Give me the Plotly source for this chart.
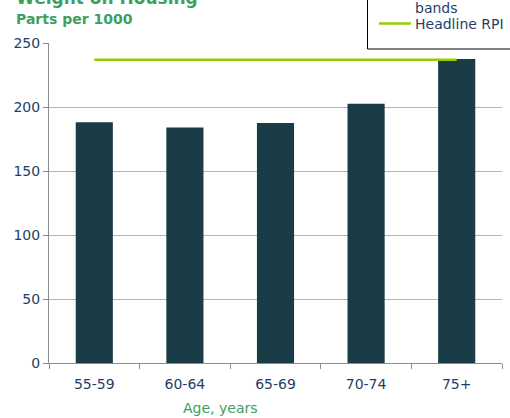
import plotly.graph_objects as go

categories = ["55-59", "60-64", "65-69", "70-74", "75+"]
weights = [188, 184, 187.5, 202.5, 237.5]
headline_rpi = [237, 237, 237, 237, 237]
y_ticks = [0, 50, 100, 150, 200, 250]

FONT = "DejaVu Sans"
NAVY = "#1F3F6A"
GREEN = "#3DA062"
BAR = "#1A3C47"
LINE = "#99CC00"

W, H = 510, 418
L, R, T, B = 49, 8, 43, 55
pw, ph = W - L - R, H - T - B

def px(x):
    return (x - L) / pw

def py(y):
    return (H - B - y) / ph

fig = go.Figure()
fig.add_trace(go.Bar(x=categories, y=weights, marker=dict(color=BAR, line=dict(width=0)),
                     name="Age bands", showlegend=False))
fig.add_trace(go.Scatter(x=categories, y=headline_rpi, mode="lines",
                         line=dict(color=LINE, width=2.5), name="Headline RPI", showlegend=False))

fig.update_layout(
    width=W, height=H,
    margin=dict(l=L, r=R, t=T, b=B),
    plot_bgcolor="white", paper_bgcolor="white",
    bargap=0.59,
    font=dict(family=FONT, color=NAVY, size=14),
    xaxis=dict(showgrid=False, showline=True, linecolor="#8C8C8C", linewidth=1,
               ticks="outside", tickson="boundaries", ticklen=5, tickcolor="#8C8C8C",
               ticklabelstandoff=8,
               tickfont=dict(family=FONT, size=14, color=NAVY)),
    yaxis=dict(range=[0, 250], tickvals=y_ticks, showgrid=True, gridcolor="#B3B3B3", gridwidth=1,
               showline=True, linecolor="#8C8C8C", linewidth=1, ticks="outside", ticklen=5,
               tickcolor="#8C8C8C", zeroline=False,
               tickfont=dict(family=FONT, size=14, color=NAVY)),
)

# Titles
fig.add_annotation(text="<b>Weight on Housing</b>", xref="paper", yref="paper",
                   x=px(14), y=py(10), xanchor="left", yanchor="bottom", showarrow=False,
                   font=dict(family=FONT, size=17, color=GREEN))
fig.add_annotation(text="<b>Parts per 1000</b>", xref="paper", yref="paper",
                   x=px(14), y=py(19), xanchor="left", yanchor="middle", showarrow=False,
                   font=dict(family=FONT, size=14, color=GREEN))
fig.add_annotation(text="Age, years", xref="paper", yref="paper",
                   x=px(220), y=py(408), xanchor="center", yanchor="middle", showarrow=False,
                   font=dict(family=FONT, size=14, color=GREEN))

# Legend (cropped at top like reference)
fig.add_shape(type="rect", xref="paper", yref="paper",
              x0=px(367.5), x1=px(520), y0=py(49), y1=py(-10),
              line=dict(color="black", width=1), fillcolor="white", layer="above")
fig.add_shape(type="line", xref="paper", yref="paper",
              x0=px(379), x1=px(411), y0=py(23.5), y1=py(23.5),
              line=dict(color=LINE, width=2.5), layer="above")
fig.add_annotation(text="bands", xref="paper", yref="paper",
                   x=px(413), y=py(8), xanchor="left", yanchor="middle", showarrow=False,
                   font=dict(family=FONT, size=14, color=NAVY))
fig.add_annotation(text="Headline RPI", xref="paper", yref="paper",
                   x=px(413), y=py(24), xanchor="left", yanchor="middle", showarrow=False,
                   font=dict(family=FONT, size=14, color=NAVY))

fig.write_html("out.html")
